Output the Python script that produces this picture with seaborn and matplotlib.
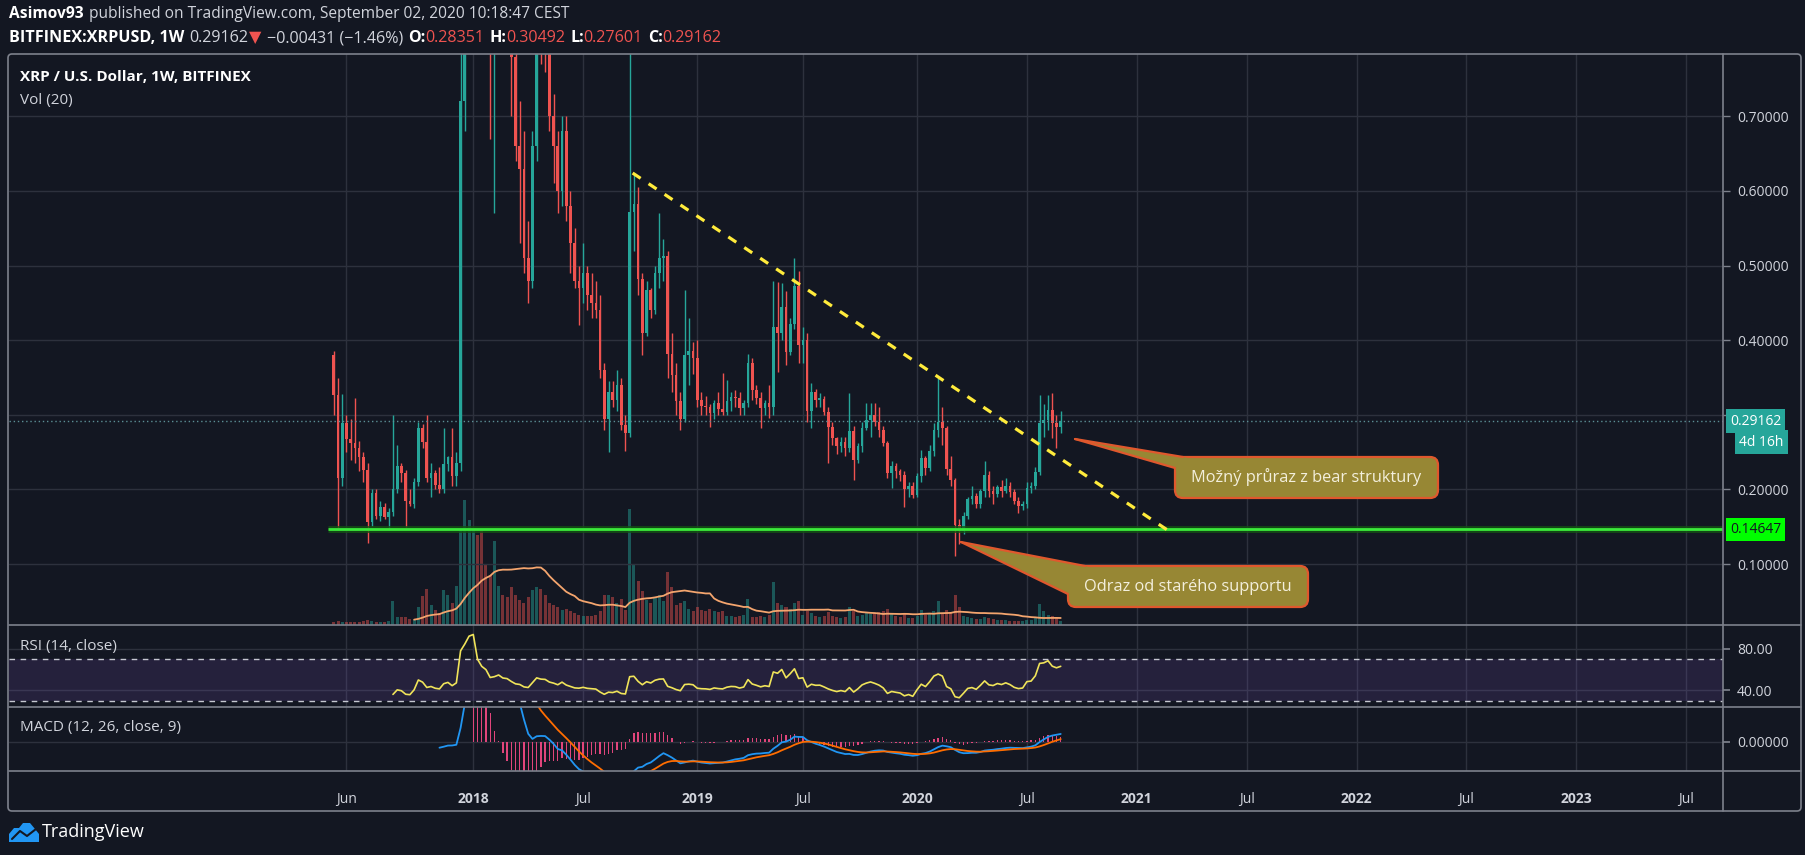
import numpy as np
import pandas as pd
import matplotlib
matplotlib.use("Agg")
import matplotlib.pyplot as plt
from matplotlib.patches import FancyBboxPatch, Polygon
from matplotlib.lines import Line2D
from matplotlib.transforms import IdentityTransform
import seaborn as sns

# ------------------------------------------------------------
# weekly candles BITFINEX:XRPUSD
# ------------------------------------------------------------
first_week = "2017-05-15"
first_open = 0.380

highs = [0.385, 0.350, 0.328, 0.300, 0.295, 0.323, 0.265, 0.250, 0.235, 0.200,
         0.200, 0.184, 0.182, 0.175, 0.300, 0.259, 0.236, 0.226, 0.200, 0.215,
         0.290, 0.288, 0.300, 0.236, 0.226, 0.230, 0.282, 0.245, 0.282, 0.250,
         0.900, 1.250, 2.100, 3.100, 2.600, 1.900, 1.600, 1.400, 1.050, 1.200,
         1.140, 1.000, 1.000, 0.860, 0.720, 0.680, 0.560, 0.680, 0.880, 0.960,
         0.890, 0.830, 0.730, 0.680, 0.700, 0.700, 0.600, 0.550, 0.500, 0.530,
         0.500, 0.490, 0.480, 0.460, 0.370, 0.345, 0.345, 0.360, 0.350, 0.300,
         0.800, 0.623, 0.605, 0.490, 0.480, 0.470, 0.500, 0.570, 0.536, 0.520,
         0.410, 0.370, 0.330, 0.467, 0.430, 0.398, 0.400, 0.330, 0.325, 0.315,
         0.320, 0.330, 0.356, 0.347, 0.330, 0.333, 0.330, 0.320, 0.382, 0.376,
         0.340, 0.330, 0.320, 0.340, 0.480, 0.478, 0.476, 0.466, 0.430, 0.510,
         0.493, 0.418, 0.410, 0.342, 0.335, 0.329, 0.325, 0.310, 0.290, 0.270,
         0.270, 0.270, 0.329, 0.285, 0.262, 0.290, 0.316, 0.316, 0.316, 0.310,
         0.285, 0.265, 0.238, 0.235, 0.228, 0.225, 0.210, 0.210, 0.222, 0.253,
         0.245, 0.260, 0.289, 0.349, 0.310, 0.285, 0.245, 0.215, 0.160, 0.170,
         0.190, 0.205, 0.195, 0.200, 0.238, 0.225, 0.205, 0.206, 0.213, 0.216,
         0.210, 0.200, 0.190, 0.185, 0.210, 0.210, 0.230, 0.327, 0.315, 0.327,
         0.329, 0.300, 0.30492]

lows = [0.300, 0.146, 0.205, 0.250, 0.240, 0.235, 0.225, 0.210, 0.128, 0.151,
        0.160, 0.158, 0.160, 0.146, 0.165, 0.195, 0.210, 0.150, 0.178, 0.175,
        0.205, 0.255, 0.210, 0.190, 0.200, 0.195, 0.195, 0.225, 0.205, 0.205,
        0.225, 0.680, 0.950, 1.950, 1.600, 0.950, 1.150, 0.670, 0.570, 0.950,
        0.880, 0.860, 0.700, 0.640, 0.530, 0.490, 0.450, 0.470, 0.640, 0.770,
        0.760, 0.680, 0.610, 0.570, 0.580, 0.560, 0.490, 0.470, 0.420, 0.450,
        0.440, 0.430, 0.430, 0.350, 0.280, 0.250, 0.310, 0.305, 0.280, 0.251,
        0.270, 0.520, 0.460, 0.380, 0.405, 0.430, 0.435, 0.470, 0.480, 0.350,
        0.330, 0.300, 0.280, 0.290, 0.340, 0.355, 0.310, 0.300, 0.300, 0.284,
        0.295, 0.300, 0.300, 0.300, 0.305, 0.310, 0.300, 0.300, 0.310, 0.320,
        0.315, 0.282, 0.300, 0.296, 0.300, 0.358, 0.400, 0.367, 0.380, 0.415,
        0.370, 0.370, 0.290, 0.282, 0.310, 0.310, 0.300, 0.236, 0.260, 0.247,
        0.250, 0.245, 0.250, 0.213, 0.235, 0.250, 0.280, 0.270, 0.285, 0.270,
        0.258, 0.215, 0.202, 0.215, 0.212, 0.176, 0.190, 0.188, 0.190, 0.210,
        0.220, 0.225, 0.245, 0.270, 0.260, 0.220, 0.205, 0.111, 0.127, 0.140,
        0.160, 0.180, 0.175, 0.175, 0.190, 0.190, 0.180, 0.190, 0.190, 0.195,
        0.190, 0.180, 0.169, 0.172, 0.175, 0.195, 0.200, 0.220, 0.270, 0.280,
        0.269, 0.256, 0.27601]

closes = [0.326, 0.215, 0.289, 0.268, 0.262, 0.255, 0.244, 0.226, 0.156, 0.195,
          0.164, 0.177, 0.163, 0.170, 0.200, 0.231, 0.222, 0.185, 0.180, 0.210,
          0.282, 0.264, 0.215, 0.222, 0.206, 0.200, 0.234, 0.243, 0.218, 0.236,
          0.720, 1.050, 2.050, 2.550, 1.800, 1.500, 1.350, 0.950, 1.000, 1.100,
          0.950, 0.920, 0.780, 0.660, 0.630, 0.510, 0.480, 0.660, 0.860, 0.810,
          0.800, 0.700, 0.660, 0.600, 0.680, 0.580, 0.530, 0.480, 0.470, 0.490,
          0.460, 0.450, 0.440, 0.360, 0.295, 0.330, 0.320, 0.340, 0.287, 0.276,
          0.572, 0.582, 0.482, 0.410, 0.467, 0.441, 0.490, 0.510, 0.513, 0.382,
          0.354, 0.318, 0.295, 0.380, 0.385, 0.376, 0.320, 0.312, 0.310, 0.302,
          0.316, 0.308, 0.304, 0.318, 0.324, 0.322, 0.309, 0.316, 0.369, 0.333,
          0.322, 0.309, 0.316, 0.310, 0.418, 0.409, 0.444, 0.384, 0.422, 0.473,
          0.393, 0.400, 0.305, 0.331, 0.320, 0.321, 0.304, 0.284, 0.269, 0.258,
          0.264, 0.255, 0.278, 0.240, 0.258, 0.282, 0.293, 0.300, 0.291, 0.280,
          0.262, 0.222, 0.231, 0.225, 0.220, 0.200, 0.205, 0.193, 0.218, 0.242,
          0.229, 0.251, 0.280, 0.291, 0.282, 0.227, 0.213, 0.153, 0.144, 0.164,
          0.187, 0.191, 0.180, 0.198, 0.220, 0.198, 0.194, 0.203, 0.198, 0.205,
          0.197, 0.184, 0.178, 0.180, 0.202, 0.204, 0.224, 0.289, 0.293, 0.307,
          0.289, 0.28351, 0.29162]

# volume in arbitrary units (relative bar heights)
volumes = [3, 4, 3, 3, 3, 3, 3, 4, 5, 4, 3, 3, 3, 4, 24, 8, 8, 8, 6, 5,
           18, 29, 36, 20, 15, 12, 35, 30, 22, 39, 95,
           125, 105, 95, 90, 95, 61, 50, 84, 39,
           30, 28, 38, 30, 25, 22, 28, 35, 38, 36, 30,
           22, 20, 18, 15, 16, 14, 12, 10, 9, 9,
           9, 10, 14, 30, 30, 28, 22, 26,
           15, 116, 60, 44, 34,
           25, 22, 27, 30, 24, 53, 38,
           20, 22, 24, 16, 14,
           18, 15, 14, 16, 14, 13, 14,
           9, 9, 8, 9, 10, 26, 8, 8,
           9, 8, 10, 43, 22, 20, 18, 16, 22, 24, 10, 14, 12, 9, 8, 9, 13, 9, 8, 7,
           8, 18, 14, 9, 10, 12, 11, 12, 13, 14,
           16, 12, 9, 8, 11, 7, 7, 9, 15, 10, 11, 14, 24, 12, 15, 12, 30, 18,
           9, 8, 7, 6, 6, 8, 7, 6, 5, 5, 5, 4, 4, 4, 4, 5,
           5, 7, 21, 14, 10, 9, 7, 4]

support_level = 0.14647
support_start = "2017-05-05"
trend_dates = ["2018-09-22", "2021-02-25"]
trend_prices = [0.624, 0.145]
last_price = 0.29162

time_ticks = ["2017-06-05", "2018-01-01", "2018-07-02", "2019-01-07", "2019-07-01",
              "2020-01-06", "2020-07-06", "2021-01-04", "2021-07-05", "2022-01-03",
              "2022-07-04", "2023-01-02", "2023-07-03"]
time_labels = ["Jun", "2018", "Jul", "2019", "Jul", "2020", "Jul", "2021", "Jul",
               "2022", "Jul", "2023", "Jul"]
price_ticks = [0.1, 0.2, 0.3, 0.4, 0.5, 0.6, 0.7]

# ------------------------------------------------------------
# colours / theme
# ------------------------------------------------------------
BG = "#131722"
GRID = "#2d313d"
SEP = "#7d818c"
TXT = "#d1d4dc"
UP = "#26a69a"
DOWN = "#ef5350"

sns.set_theme(style="dark", rc={"axes.facecolor": BG, "figure.facecolor": BG,
                                "text.color": TXT, "xtick.color": TXT,
                                "ytick.color": TXT, "grid.color": GRID})
plt.rcParams["font.family"] = ["Open Sans", "DejaVu Sans"]

# ------------------------------------------------------------
# frame + indicators
# ------------------------------------------------------------
dates = pd.date_range(first_week, periods=len(closes), freq="7D")
opens = [first_open] + closes[:-1]
df = pd.DataFrame({"date": dates, "open": opens, "high": highs, "low": lows,
                   "close": closes, "volume": volumes})
rising = df["close"] >= df["open"]
colors = np.where(rising, UP, DOWN)

# RSI 14, Wilder smoothing seeded with a simple mean
delta = df["close"].diff().to_numpy()
gain = np.clip(delta, 0, None)
loss = np.clip(-delta, 0, None)
n = len(df)
avg_g = np.full(n, np.nan)
avg_l = np.full(n, np.nan)
avg_g[14] = gain[1:15].mean()
avg_l[14] = loss[1:15].mean()
for k in range(15, n):
    avg_g[k] = (avg_g[k - 1] * 13 + gain[k]) / 14
    avg_l[k] = (avg_l[k - 1] * 13 + loss[k]) / 14
df["rsi"] = 100 - 100 / (1 + avg_g / avg_l)

# MACD 12/26/9
macd = df["close"].ewm(span=12, adjust=False).mean() - df["close"].ewm(span=26, adjust=False).mean()
macd[:25] = np.nan
signal = macd.ewm(span=9, adjust=False).mean()
signal[:33] = np.nan
df["macd"] = macd
df["signal"] = signal
df["hist"] = macd - signal
df["vol_ma"] = df["volume"].rolling(20).mean()

# ------------------------------------------------------------
# layout (pixel based)
# ------------------------------------------------------------
W, H = 1805, 855
fig = plt.figure(figsize=(W / 100, H / 100), dpi=100)
PX = IdentityTransform()


def rect(top, bottom, left=9, right=1723):
    return [left / W, 1 - bottom / H, (right - left) / W, (bottom - top) / H]


ax_vol = fig.add_axes(rect(54, 625))
ax = ax_vol.twinx()
ax_rsi = fig.add_axes(rect(625, 707), sharex=ax_vol)
ax_macd = fig.add_axes(rect(707, 771), sharex=ax_vol)

x_left, x_right = pd.Timestamp("2015-11-24"), pd.Timestamp("2023-09-02")
tick_dates = pd.to_datetime(time_ticks)

for a in (ax_vol, ax, ax_rsi, ax_macd):
    for s in a.spines.values():
        s.set_visible(False)
    a.tick_params(colors=TXT, labelsize=10)

# --- volume (overlay at the bottom of the price pane)
ax_vol.bar(df["date"], df["volume"], width=5.0, color=colors, alpha=0.45, linewidth=0)
sns.lineplot(x=df["date"], y=df["vol_ma"], ax=ax_vol, color="#f4a56e", linewidth=1.3)
ax_vol.set_ylim(0, 571)
ax_vol.set_yticks([])
ax_vol.set_xlim(x_left, x_right)
ax_vol.set_xticks(tick_dates)
ax_vol.tick_params(axis="x", length=0, labelbottom=False)
ax_vol.grid(axis="x", color=GRID, linewidth=1)
ax_vol.set_xlabel("")
ax_vol.set_ylabel("")

# --- candles
ax.vlines(df["date"], df["low"], df["high"], colors=colors, linewidth=1)
body_bottom = np.minimum(df["open"], df["close"])
body_height = np.maximum((df["close"] - df["open"]).abs(), 0.002)
ax.bar(df["date"], body_height, bottom=body_bottom, width=4.4, color=colors, linewidth=0)
ax.set_ylim(0.0184, 0.7835)
ax.set_yticks(price_ticks)
ax.set_yticklabels(["" if abs(v - 0.3) < 1e-9 else f"{v:.5f}" for v in price_ticks])
ax.tick_params(axis="y", length=5, width=1, color=SEP, pad=5, labelsize=10)
ax.grid(axis="y", color=GRID, linewidth=1)
ax.grid(axis="x", visible=False)

# price line, support line, trend line
ax.axhline(last_price, color="#5b8f95", linewidth=1, linestyle=(0, (1, 2)))
ax.hlines(support_level, pd.Timestamp(support_start), x_right, color="#145214", linewidth=5, alpha=0.8)
ax.hlines(support_level, pd.Timestamp(support_start), x_right, color="#3bea3b", linewidth=2)
ax.plot(pd.to_datetime(trend_dates), trend_prices, color="#ffeb3b", linewidth=2.3,
        linestyle=(0, (3, 3)))

ax.annotate(f"{last_price:.5f}", xy=(1.0, last_price), xycoords=ax.get_yaxis_transform(),
            xytext=(7, 0), textcoords="offset pixels", ha="left", va="center",
            color="white", fontsize=10, annotation_clip=False,
            bbox=dict(boxstyle="square,pad=0.3", fc=UP, ec="none"))
ax.annotate("4d 16h", xy=(1.0, last_price), xycoords=ax.get_yaxis_transform(),
            xytext=(16, -21), textcoords="offset pixels", ha="left", va="center",
            color="white", fontsize=10, annotation_clip=False,
            bbox=dict(boxstyle="square,pad=0.3", fc=UP, ec="none"))
ax.annotate(f"{support_level:.5f}", xy=(1.0, support_level), xycoords=ax.get_yaxis_transform(),
            xytext=(7, 0), textcoords="offset pixels", ha="left", va="center",
            color=BG, fontsize=10, annotation_clip=False,
            bbox=dict(boxstyle="square,pad=0.3", fc="#00ff00", ec="none"))

# --- RSI
ax_rsi.axhspan(30, 70, color="#7e57c2", alpha=0.17, linewidth=0)
ax_rsi.axhline(70, color="#c5c8d0", linewidth=1, linestyle=(0, (4, 4)))
ax_rsi.axhline(30, color="#c5c8d0", linewidth=1, linestyle=(0, (4, 4)))
sns.lineplot(x=df["date"], y=df["rsi"], ax=ax_rsi, color="#f0e45a", linewidth=1.2)
ax_rsi.set_ylim(23.9, 103.1)
ax_rsi.yaxis.tick_right()
ax_rsi.set_yticks([40, 80])
ax_rsi.set_yticklabels(["40.00", "80.00"])
ax_rsi.tick_params(axis="y", length=5, color=SEP, pad=5, labelsize=10)
ax_rsi.tick_params(axis="x", length=0, labelbottom=False)
ax_rsi.grid(True, color=GRID, linewidth=1)
ax_rsi.set_xlabel("")
ax_rsi.set_ylabel("")

# --- MACD
ax_macd.bar(df["date"], df["hist"], width=2.2, color="#e0457b", linewidth=0)
sns.lineplot(x=df["date"], y=df["macd"], ax=ax_macd, color="#2196f3", linewidth=1.3)
sns.lineplot(x=df["date"], y=df["signal"], ax=ax_macd, color="#ff6d00", linewidth=1.3)
ax_macd.set_ylim(-0.069, 0.083)
ax_macd.yaxis.tick_right()
ax_macd.set_yticks([0.0])
ax_macd.set_yticklabels(["0.00000"])
ax_macd.tick_params(axis="y", length=5, color=SEP, pad=5, labelsize=10)
ax_macd.grid(True, color=GRID, linewidth=1)
ax_macd.set_xlim(x_left, x_right)
ax_macd.set_xticks(tick_dates)
ax_macd.set_xticklabels(time_labels)
ax_macd.tick_params(axis="x", length=5, color=SEP, pad=10, labelsize=10)
for lab in ax_macd.get_xticklabels():
    if lab.get_text().isdigit():
        lab.set_fontweight("bold")
ax_macd.set_xlabel("")
ax_macd.set_ylabel("")

# ------------------------------------------------------------
# separators and frame
# ------------------------------------------------------------
for y in (625, 707, 771):
    fig.add_artist(Line2D([9, 1801], [H - y, H - y], color=SEP, linewidth=1.2, transform=PX))
fig.add_artist(Line2D([1723, 1723], [H - 54, H - 811], color=SEP, linewidth=1.2, transform=PX))
fig.add_artist(FancyBboxPatch((8, H - 811), 1793, 757, boxstyle="round,pad=0,rounding_size=4",
                              fc="none", ec=SEP, linewidth=1.2, transform=PX))

# ------------------------------------------------------------
# texts
# ------------------------------------------------------------
renderer = fig.canvas.get_renderer()


def write_row(x, y, parts, size):
    for text, color, weight, gap in parts:
        x += gap
        t = fig.text(x, H - y, text, color=color, fontsize=size, fontweight=weight,
                     ha="left", va="center", transform=PX)
        x = t.get_window_extent(renderer).x1


SP = 5
write_row(9, 14, [("Asimov93", "white", "bold", 0),
                  ("published on TradingView.com, September 02, 2020 10:18:47 CEST", TXT, "normal", SP)], 11.2)
write_row(9, 38, [("BITFINEX:XRPUSD, 1W", "white", "bold", 0),
                  ("0.29162", TXT, "normal", SP),
                  ("\u25bc", DOWN, "normal", 1),
                  ("\u22120.00431 (\u22121.46%)", TXT, "normal", SP),
                  ("O:", "white", "bold", SP), ("0.28351", DOWN, "normal", 0),
                  ("H:", "white", "bold", SP), ("0.30492", DOWN, "normal", 0),
                  ("L:", "white", "bold", SP), ("0.27601", DOWN, "normal", 0),
                  ("C:", "white", "bold", SP), ("0.29162", DOWN, "normal", 0)], 11.6)

fig.text(20, H - 77, "XRP / U.S. Dollar, 1W, BITFINEX", color="white", fontsize=11,
         fontweight="bold", ha="left", va="center", transform=PX)
fig.text(20, H - 100, "Vol (20)", color=TXT, fontsize=11, ha="left", va="center", transform=PX)
fig.text(20, H - 646, "RSI (14, close)", color=TXT, fontsize=11, ha="left", va="center", transform=PX)
fig.text(20, H - 727, "MACD (12, 26, close, 9)", color=TXT, fontsize=11, ha="left", va="center", transform=PX)

# callouts
BOX_FC = "#978734"
BOX_EC = "#e0582d"


def callout(x0, y0, x1, y1, tip, base_a, base_b, fill_pts, text):
    fig.add_artist(FancyBboxPatch((x0, H - y1), x1 - x0, y1 - y0,
                                  boxstyle="round,pad=0,rounding_size=8",
                                  fc=BOX_FC, ec=BOX_EC, linewidth=1.6, transform=PX, zorder=5))
    pts = [(tip[0], H - tip[1])] + [(px, H - py) for px, py in fill_pts]
    fig.add_artist(Polygon(pts, closed=True, fc=BOX_FC, ec="none", transform=PX, zorder=6))
    for b in (base_a, base_b):
        fig.add_artist(Line2D([tip[0], b[0]], [H - tip[1], H - b[1]], color=BOX_EC,
                              linewidth=1.6, transform=PX, zorder=7))
    fig.text((x0 + x1) / 2, H - (y0 + y1) / 2, text, color="#f3efdc", fontsize=11.8,
             ha="center", va="center", transform=PX, zorder=8)


callout(1175, 457, 1438, 498, (1075, 439), (1183, 457), (1175, 468),
        [(1183, 457), (1192, 459), (1194, 468), (1177, 472), (1175, 468)],
        "Možný průraz z bear struktury")
callout(1068, 566, 1308, 607, (961, 542), (1085, 566), (1068, 594),
        [(1085, 566), (1094, 569), (1080, 598), (1070, 598), (1068, 594)],
        "Odraz od starého supportu")

# footer logo
logo = [(9, 842), (9, 834), (14, 828), (19, 828), (23, 823), (30, 823), (35, 829),
        (39, 834), (39, 842)]
fig.add_artist(Polygon([(x, H - y) for x, y in logo], closed=True, fc="#2196f3", ec="none", transform=PX))
fig.add_artist(Line2D([12, 20, 27, 36], [H - 839, H - 831, H - 836, H - 829], color=BG,
                      linewidth=1.5, transform=PX))
fig.text(42, H - 832, "TradingView", color="white", fontsize=13, ha="left", va="center", transform=PX)

fig.savefig("out.png", dpi=100, facecolor=BG)
